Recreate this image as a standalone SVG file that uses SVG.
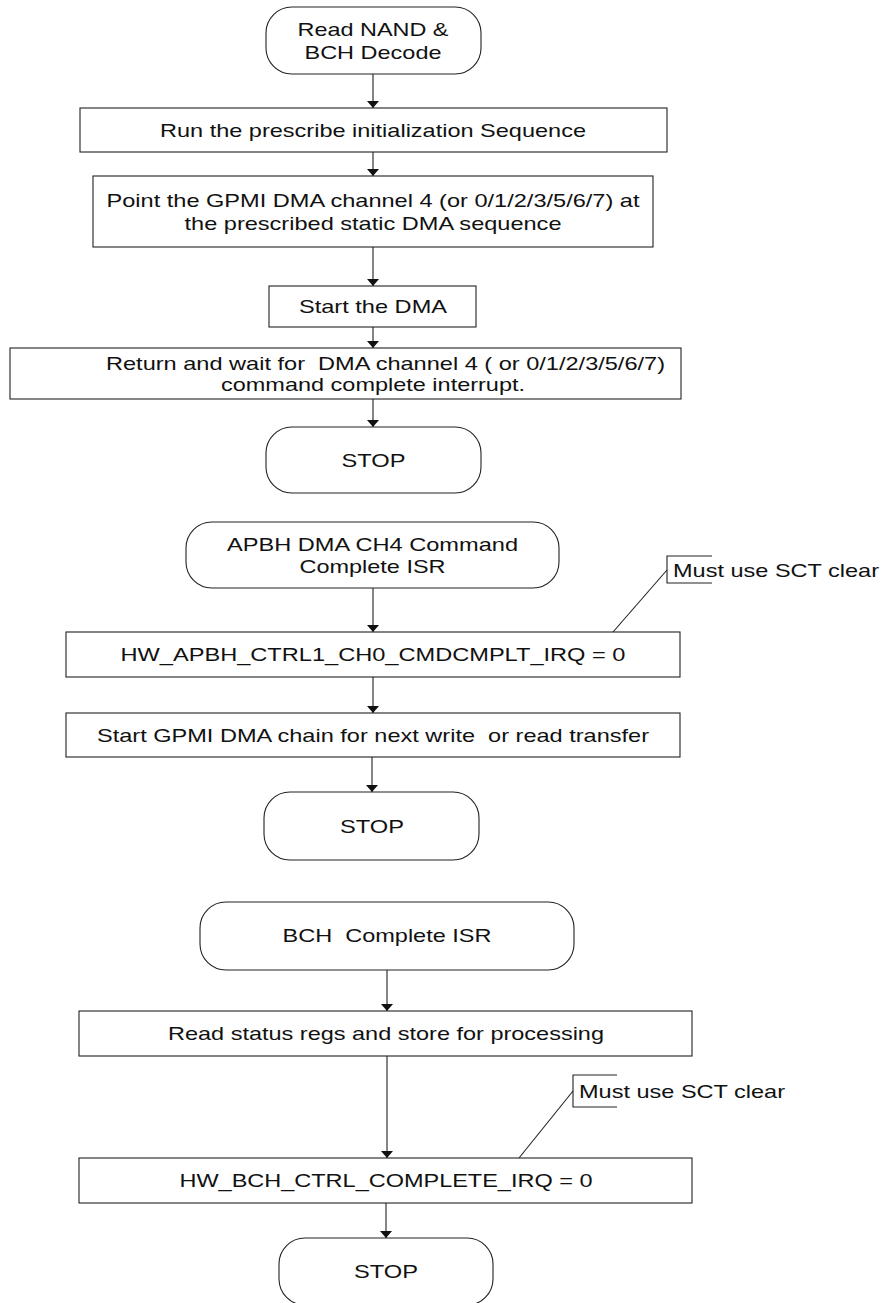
<svg xmlns="http://www.w3.org/2000/svg" width="883" height="1303" viewBox="0 0 883 1303">
<style>
.n{fill:#fff;stroke:#222;stroke-width:1.1}
.t{font-family:"Liberation Sans",Arial,Helvetica,sans-serif;font-size:19px;fill:#111;text-anchor:middle;white-space:pre}
.s{text-anchor:start}
.c{fill:none;stroke:#222;stroke-width:1.1}
</style>
<defs>
<marker id="ah" viewBox="0 0 7 12" refX="7" refY="6" markerWidth="7" markerHeight="12" markerUnits="userSpaceOnUse" orient="auto">
<path d="M0,0 L7,6 L0,12 z" fill="#111"/>
</marker>
</defs>
<rect width="883" height="1303" fill="#fff"/>
<g id="connectors">
<line class="c" x1="373" y1="74" x2="373" y2="108" marker-end="url(#ah)"/>
<line class="c" x1="373" y1="152" x2="373" y2="176" marker-end="url(#ah)"/>
<line class="c" x1="373" y1="247" x2="373" y2="286" marker-end="url(#ah)"/>
<line class="c" x1="373" y1="327" x2="373" y2="348" marker-end="url(#ah)"/>
<line class="c" x1="373" y1="399" x2="373" y2="427" marker-end="url(#ah)"/>
<line class="c" x1="373" y1="588" x2="373" y2="632" marker-end="url(#ah)"/>
<line class="c" x1="373" y1="677" x2="373" y2="713" marker-end="url(#ah)"/>
<line class="c" x1="372" y1="757" x2="372" y2="792" marker-end="url(#ah)"/>
<line class="c" x1="387" y1="970" x2="387" y2="1011" marker-end="url(#ah)"/>
<line class="c" x1="387" y1="1056" x2="387" y2="1158" marker-end="url(#ah)"/>
<line class="c" x1="386" y1="1203" x2="386" y2="1238" marker-end="url(#ah)"/>
<line class="c" x1="613" y1="632" x2="667" y2="570"/>
<line class="c" x1="519" y1="1158" x2="573" y2="1091"/>
</g>
<g id="start">
<rect class="n" x="266" y="7" width="215" height="67" rx="26" ry="26"/>
<text class="t" x="373" y="36" textLength="151" lengthAdjust="spacingAndGlyphs">Read NAND &amp;</text>
<text class="t" x="373" y="59" textLength="137" lengthAdjust="spacingAndGlyphs">BCH Decode</text>
</g>
<g id="init">
<rect class="n" x="80" y="108" width="587" height="44"/>
<text class="t" x="373" y="137" textLength="426" lengthAdjust="spacingAndGlyphs">Run the prescribe initialization Sequence</text>
</g>
<g id="point">
<rect class="n" x="93" y="176" width="560" height="71"/>
<text class="t" x="373" y="207" textLength="533" lengthAdjust="spacingAndGlyphs">Point the GPMI DMA channel 4 (or 0/1/2/3/5/6/7) at</text>
<text class="t" x="373" y="230" textLength="377" lengthAdjust="spacingAndGlyphs">the prescribed static DMA sequence</text>
</g>
<g id="startdma">
<rect class="n" x="269" y="286" width="207" height="41"/>
<text class="t" x="373" y="313" textLength="148" lengthAdjust="spacingAndGlyphs">Start the DMA</text>
</g>
<g id="wait">
<rect class="n" x="10" y="348" width="671" height="51"/>
<text class="t s" x="106" y="370" textLength="559" lengthAdjust="spacingAndGlyphs">Return and wait for  DMA channel 4 ( or 0/1/2/3/5/6/7)</text>
<text class="t s" x="221" y="391" textLength="304" lengthAdjust="spacingAndGlyphs">command complete interrupt.</text>
</g>
<g id="stop1">
<rect class="n" x="266" y="427" width="215" height="66" rx="26" ry="26"/>
<text class="t" x="373.5" y="467" textLength="64" lengthAdjust="spacingAndGlyphs">STOP</text>
</g>
<g id="apbh">
<rect class="n" x="186" y="522" width="373" height="66" rx="26" ry="26"/>
<text class="t" x="372.5" y="551" textLength="291" lengthAdjust="spacingAndGlyphs">APBH DMA CH4 Command</text>
<text class="t" x="372.5" y="573" textLength="146" lengthAdjust="spacingAndGlyphs">Complete ISR</text>
</g>
<g id="note1">
<path class="c" d="M712,556 H667 V583 H712"/>
<text class="t s" x="673" y="577" textLength="206" lengthAdjust="spacingAndGlyphs">Must use SCT clear</text>
</g>
<g id="apbhclr">
<rect class="n" x="66" y="632" width="614" height="45"/>
<text class="t" x="373" y="661" textLength="505" lengthAdjust="spacingAndGlyphs">HW_APBH_CTRL1_CH0_CMDCMPLT_IRQ = 0</text>
</g>
<g id="gpmi">
<rect class="n" x="66" y="713" width="614" height="44"/>
<text class="t" x="373" y="742" textLength="552" lengthAdjust="spacingAndGlyphs">Start GPMI DMA chain for next write  or read transfer</text>
</g>
<g id="stop2">
<rect class="n" x="264" y="792" width="215" height="68" rx="26" ry="26"/>
<text class="t" x="372" y="833" textLength="64" lengthAdjust="spacingAndGlyphs">STOP</text>
</g>
<g id="bch">
<rect class="n" x="200" y="902" width="374" height="68" rx="26" ry="26"/>
<text class="t" x="387" y="942" textLength="209" lengthAdjust="spacingAndGlyphs">BCH  Complete ISR</text>
</g>
<g id="status">
<rect class="n" x="79" y="1011" width="613" height="45"/>
<text class="t" x="386" y="1040" textLength="436" lengthAdjust="spacingAndGlyphs">Read status regs and store for processing</text>
</g>
<g id="note2">
<path class="c" d="M617,1075 H573 V1107 H617"/>
<text class="t s" x="579" y="1098" textLength="206" lengthAdjust="spacingAndGlyphs">Must use SCT clear</text>
</g>
<g id="bchclr">
<rect class="n" x="79" y="1158" width="613" height="45"/>
<text class="t" x="386" y="1187" textLength="413" lengthAdjust="spacingAndGlyphs">HW_BCH_CTRL_COMPLETE_IRQ = 0</text>
</g>
<g id="stop3">
<rect class="n" x="279" y="1238" width="214" height="67" rx="26" ry="26"/>
<text class="t" x="386" y="1278" textLength="64" lengthAdjust="spacingAndGlyphs">STOP</text>
</g>
</svg>
